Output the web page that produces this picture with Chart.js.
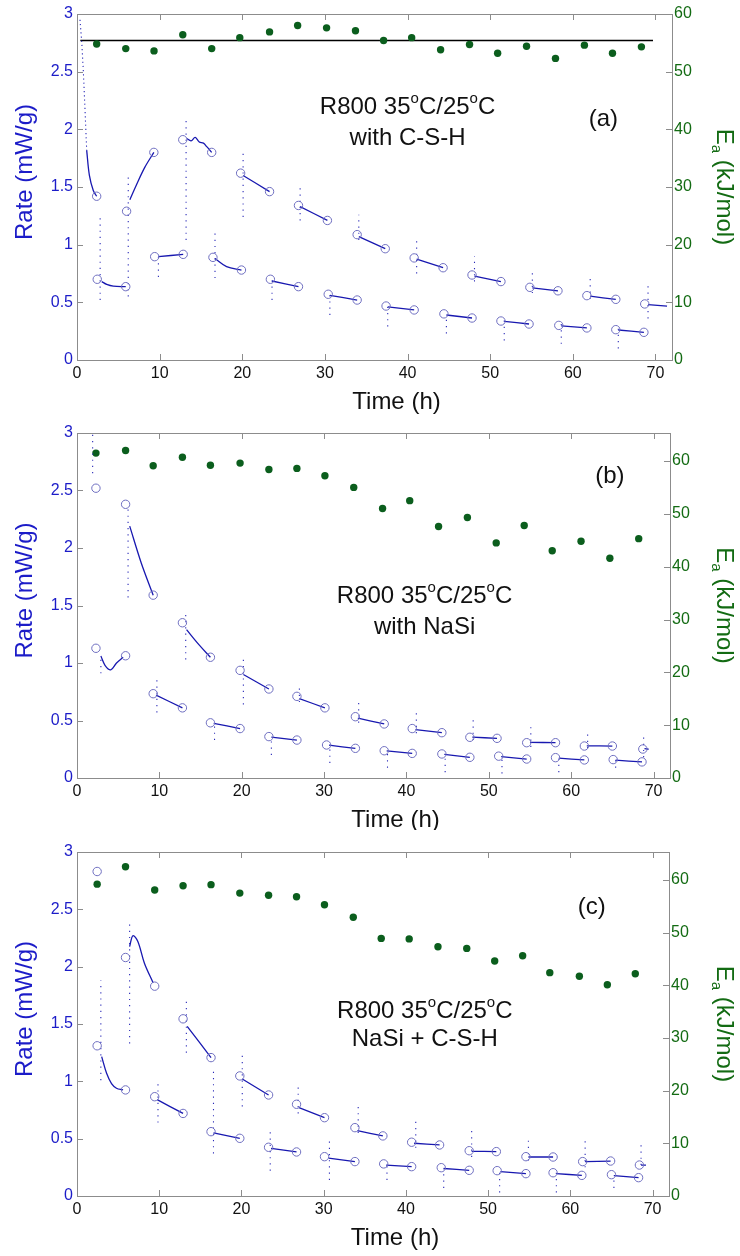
<!DOCTYPE html>
<html><head><meta charset="utf-8">
<script src="https://cdn.jsdelivr.net/npm/chart.js@4.4.1/dist/chart.umd.min.js"></script>
<style>
html,body{margin:0;padding:0;background:#fff;}
body{width:740px;height:1256px;position:relative;overflow:hidden;}
canvas{position:absolute;left:0;}
</style></head><body>
<canvas id="ca" width="740" height="415" style="top:0px"></canvas>
<canvas id="cb" width="740" height="415" style="top:415px"></canvas>
<canvas id="cc" width="740" height="426" style="top:830px"></canvas>
<script>
// ---------- shared tick labels ----------
const timeTicks = [0, 10, 20, 30, 40, 50, 60, 70];
const rateTicks = [0, 0.5, 1, 1.5, 2, 2.5, 3];
const eaTicks = [0, 10, 20, 30, 40, 50, 60];

// ---------- panel (a): with C-S-H ----------
const aEaT = [2.38, 5.9, 9.32, 12.8, 16.3, 19.7, 23.3, 26.7, 30.2, 33.7, 37.1, 40.5, 44.0, 47.5, 50.9, 54.4, 57.9, 61.4, 64.8, 68.3];
const aEa  = [54.8, 54.0, 53.6, 56.4, 54.0, 55.9, 56.9, 58.0, 57.6, 57.1, 55.4, 55.9, 53.8, 54.7, 53.2, 54.4, 52.3, 54.6, 53.2, 54.3];
const aMeanT = [0.4, 69.7];
const aMean  = [55.4, 55.4];
const aCircT = [2.38, 2.45, 5.9, 6.0, 9.3, 9.4, 12.85, 12.8, 16.3, 16.45, 19.9, 19.8, 23.3, 23.4, 26.8, 26.8, 30.3, 30.4, 33.9, 33.9, 37.3, 37.4, 40.8, 40.8, 44.3, 44.4, 47.8, 47.8, 51.3, 51.3, 54.7, 54.8, 58.2, 58.3, 61.7, 61.7, 65.2, 65.2, 68.6, 68.7];
const aCircR = [1.42, 0.70, 0.636, 1.29, 1.80, 0.896, 0.916, 1.91, 1.80, 0.89, 0.78, 1.62, 1.46, 0.70, 0.636, 1.34, 1.21, 0.57, 0.52, 1.087, 0.965, 0.468, 0.434, 0.885, 0.80, 0.40, 0.364, 0.737, 0.68, 0.338, 0.312, 0.63, 0.60, 0.30, 0.278, 0.558, 0.526, 0.263, 0.24, 0.486];
const aLineT = [1.17, 1.5, 1.97, 2.38, null, 3.0, 3.6, 4.4, 5.9, null, 6.4, 7.2, 8.2, 9.3, null, 9.85, 12.85, null, 13.3, 13.8, 14.3, 14.8, 15.3, 15.7, 16.3, null, 16.7, 18.1, 19.9, null, 20.1, 23.3, null, 23.6, 26.8, null, 27.0, 30.3, null, 30.6, 33.9, null, 34.1, 37.3, null, 37.6, 40.8, null, 41.1, 44.3, null, 44.7, 47.8, null, 48.1, 51.3, null, 51.7, 54.7, null, 55.1, 58.2, null, 58.6, 61.7, null, 62.1, 65.2, null, 65.5, 68.6, null, 69.1, 71.4];
const aLineR = [1.82, 1.6, 1.47, 1.42, null, 0.68, 0.655, 0.64, 0.636, null, 1.39, 1.52, 1.67, 1.80, null, 0.896, 0.916, null, 1.92, 1.90, 1.93, 1.89, 1.88, 1.85, 1.80, null, 0.88, 0.81, 0.78, null, 1.60, 1.46, null, 0.685, 0.636, null, 1.33, 1.21, null, 0.56, 0.52, null, 1.07, 0.965, null, 0.46, 0.434, null, 0.875, 0.80, null, 0.39, 0.364, null, 0.727, 0.68, null, 0.335, 0.312, null, 0.625, 0.60, null, 0.295, 0.278, null, 0.553, 0.526, null, 0.26, 0.24, null, 0.48, 0.468];
const aLeadT = [0.36, 0.57, 0.77, 0.97, 1.17];
const aLeadR = [2.95, 2.76, 2.5, 2.17, 1.82];
const aStkT  = [2.8, 6.2, 9.85, 13.2, 16.7, 20.1, 23.6, 27.0, 30.6, 34.1, 37.6, 41.1, 44.7, 48.1, 51.7, 55.1, 58.6, 62.1, 65.5, 69.1];
const aStkLo = [0.52, 0.55, 0.72, 1.04, 0.71, 1.24, 0.52, 1.21, 0.39, 1.04, 0.29, 0.75, 0.23, 0.68, 0.17, 0.58, 0.14, 0.53, 0.10, 0.36];
const aStkHi = [1.26, 1.62, 0.89, 2.10, 1.10, 1.79, 0.69, 1.53, 0.58, 1.26, 0.46, 1.07, 0.39, 0.90, 0.36, 0.77, 0.32, 0.73, 0.28, 0.66];

// ---------- panel (b): with NaSi ----------
const bEaT = [2.3, 5.9, 9.25, 12.8, 16.2, 19.8, 23.3, 26.7, 30.1, 33.6, 37.1, 40.4, 43.9, 47.4, 50.9, 54.3, 57.7, 61.2, 64.7, 68.2];
const bEa  = [61.5, 62.0, 59.1, 60.7, 59.2, 59.6, 58.4, 58.6, 57.2, 55.0, 51.0, 52.5, 47.6, 49.3, 44.5, 47.8, 43.0, 44.8, 41.6, 45.3];
const bCircT = [2.3, 5.9, 9.25, 12.8, 16.2, 19.8, 23.3, 26.7, 30.1, 33.8, 37.3, 40.7, 44.3, 47.7, 51.0, 54.6, 58.1, 61.6, 65.0, 68.7,
                2.3, 5.9, 9.25, 12.8, 16.2, 19.8, 23.3, 26.7, 30.3, 33.8, 37.3, 40.7, 44.3, 47.7, 51.2, 54.6, 58.1, 61.6, 65.1, 68.6];
const bCircR = [2.52, 2.38, 1.59, 1.35, 1.05, 0.936, 0.774, 0.71, 0.61, 0.533, 0.47, 0.43, 0.394, 0.354, 0.345, 0.307, 0.307, 0.278, 0.278, 0.252,
                1.128, 1.063, 0.733, 0.61, 0.48, 0.43, 0.36, 0.33, 0.287, 0.258, 0.237, 0.214, 0.209, 0.18, 0.19, 0.165, 0.177, 0.157, 0.16, 0.14];
const bLineT = [2.9, 3.4, 4.1, 4.8, 5.6, null, 6.4, 7.8, 9.25, null, 9.6, 12.8, null, 13.3, 14.8, 16.2, null, 16.6, 19.8, null, 20.2, 23.3, null, 23.6, 26.7, null, 27.0, 30.1, null, 30.6, 33.8, null, 34.1, 37.3, null, 37.6, 40.7, null, 41.1, 44.3, null, 44.6, 47.7, null, 48.0, 51.0, null, 51.5, 54.6, null, 55.0, 58.1, null, 58.5, 61.6, null, 61.9, 65.0, null, 65.4, 68.6, null, 68.9, 69.4];
const bLineR = [1.06, 0.98, 0.94, 1.0, 1.05, null, 2.19, 1.87, 1.59, null, 0.72, 0.61, null, 1.29, 1.16, 1.05, null, 0.475, 0.43, null, 0.90, 0.774, null, 0.355, 0.33, null, 0.69, 0.61, null, 0.285, 0.258, null, 0.52, 0.47, null, 0.235, 0.214, null, 0.42, 0.394, null, 0.205, 0.18, null, 0.355, 0.345, null, 0.185, 0.165, null, 0.31, 0.307, null, 0.172, 0.157, null, 0.28, 0.278, null, 0.155, 0.14, null, 0.255, 0.25];
const bStkT  = [1.9, 2.9, 6.2, 9.7, 13.2, 16.7, 20.2, 23.6, 27.0, 30.7, 34.2, 37.7, 41.2, 44.7, 48.1, 51.6, 55.1, 58.5, 62.0, 65.4, 68.8];
const bStkLo = [2.65, 0.91, 1.57, 0.57, 1.03, 0.33, 0.64, 0.20, 0.66, 0.13, 0.48, 0.09, 0.39, 0.05, 0.33, 0.04, 0.27, 0.05, 0.26, 0.09, 0.18];
const bStkHi = [3.0, 1.03, 2.36, 0.88, 1.46, 0.48, 1.07, 0.36, 0.78, 0.29, 0.68, 0.24, 0.57, 0.20, 0.52, 0.18, 0.45, 0.18, 0.42, 0.16, 0.39];

// ---------- panel (c): NaSi + C-S-H ----------
const cEaT = [2.45, 5.9, 9.45, 12.9, 16.3, 19.8, 23.3, 26.7, 30.1, 33.6, 37.0, 40.4, 43.9, 47.4, 50.8, 54.2, 57.5, 61.1, 64.5, 67.9];
const cEa  = [59.2, 62.5, 58.1, 58.9, 59.1, 57.5, 57.1, 56.8, 55.3, 52.9, 48.9, 48.8, 47.3, 47.0, 44.6, 45.6, 42.4, 41.7, 40.1, 42.2];
const cCircT = [2.45, 5.9, 9.45, 12.9, 16.3, 19.8, 23.3, 26.7, 30.1, 33.8, 37.2, 40.7, 44.1, 47.7, 51.0, 54.6, 57.9, 61.5, 64.9, 68.4,
                2.45, 5.9, 9.45, 12.9, 16.3, 19.8, 23.3, 26.7, 30.1, 33.8, 37.3, 40.7, 44.3, 47.7, 51.1, 54.6, 57.9, 61.4, 65.0, 68.3];
const cCircR = [2.83, 2.08, 1.83, 1.545, 1.207, 1.047, 0.881, 0.80, 0.683, 0.596, 0.524, 0.469, 0.445, 0.395, 0.387, 0.343, 0.34, 0.30, 0.305, 0.27,
                1.31, 0.925, 0.866, 0.72, 0.561, 0.503, 0.425, 0.384, 0.343, 0.30, 0.28, 0.256, 0.247, 0.224, 0.221, 0.195, 0.203, 0.18, 0.186, 0.16];
const cLineT = [3.0, 3.6, 4.2, 4.8, 5.6, null, 6.4, 6.8, 7.4, 8.2, 9.25, null, 9.75, 12.9, null, 13.4, 16.3, null, 16.6, 19.8, null, 20.1, 23.3, null, 23.6, 26.7, null, 27.0, 30.1, null, 30.6, 33.8, null, 34.1, 37.2, null, 37.6, 40.7, null, 41.0, 44.1, null, 44.6, 47.7, null, 48.0, 51.0, null, 51.5, 54.6, null, 54.9, 57.9, null, 58.3, 61.4, null, 61.8, 64.9, null, 65.3, 68.3, null, 68.6, 69.2];
const cLineR = [1.215, 1.07, 0.98, 0.94, 0.925, null, 2.175, 2.27, 2.22, 2.03, 1.86, null, 0.84, 0.72, null, 1.48, 1.207, null, 0.55, 0.503, null, 1.02, 0.881, null, 0.415, 0.384, null, 0.77, 0.683, null, 0.33, 0.30, null, 0.57, 0.524, null, 0.27, 0.256, null, 0.46, 0.445, null, 0.24, 0.224, null, 0.39, 0.387, null, 0.212, 0.195, null, 0.34, 0.34, null, 0.195, 0.18, null, 0.30, 0.305, null, 0.178, 0.16, null, 0.27, 0.27];
const cStkT  = [2.9, 6.4, 9.85, 13.3, 16.6, 20.1, 23.5, 26.9, 30.7, 34.2, 37.7, 41.2, 44.6, 48.0, 51.4, 54.9, 58.3, 61.8, 65.3, 68.6];
const cStkLo = [1.01, 1.33, 0.64, 1.25, 0.37, 0.78, 0.22, 0.72, 0.14, 0.55, 0.14, 0.42, 0.07, 0.34, 0.03, 0.31, 0.03, 0.25, 0.07, 0.27];
const cStkHi = [1.88, 2.38, 0.98, 1.71, 1.12, 1.25, 0.56, 0.98, 0.49, 0.81, 0.29, 0.65, 0.24, 0.58, 0.23, 0.51, 0.21, 0.49, 0.18, 0.45];

// ---------- helpers ----------
const FONT = '"Liberation Sans", Arial, sans-serif';
const BLUE_TXT = '#1c1cc8', GREEN_TXT = '#136b13', GREEN_DOT = '#0b5e1d';
const CIRCLE = '#6e6ec0', LINE = '#1818b0', DOT = '#2a2ab8', AXIS = '#8c8c8c';

function zip(xs, ys) { return xs.map((x, i) => ({ x: x, y: ys[i] })); }
function streaks(ts, lo, hi) {
  const out = [];
  ts.forEach((t, i) => { out.push({ x: t, y: lo[i] }, { x: t, y: hi[i] }, { x: null, y: null }); });
  return out;
}
function rich(ctx, parts, cx, cy, size, color) {
  const big = size + 'px ' + FONT, small = Math.round(size * 0.62) + 'px ' + FONT;
  let w = 0;
  parts.forEach(p => { ctx.font = p.s ? small : big; w += ctx.measureText(p.t).width; });
  let x = cx - w / 2;
  ctx.textBaseline = 'middle'; ctx.textAlign = 'left'; ctx.fillStyle = color;
  parts.forEach(p => {
    ctx.font = p.s ? small : big;
    const dy = p.s === 'sup' ? -size * 0.36 : (p.s === 'sub' ? size * 0.32 : 0);
    ctx.fillText(p.t, x, cy + dy);
    x += ctx.measureText(p.t).width;
  });
}

function decor(P) {
  return {
    id: 'decor',
    afterDraw(chart) {
      const ctx = chart.ctx, a = chart.chartArea;
      const sx = chart.scales.x, sy = chart.scales.y, s2 = chart.scales.y2;
      ctx.save();
      ctx.strokeStyle = AXIS; ctx.lineWidth = 1;
      ctx.strokeRect(Math.round(a.left) + 0.5, Math.round(a.top) + 0.5, Math.round(a.right - a.left), Math.round(a.bottom - a.top));
      const TL = 6;
      ctx.beginPath();
      timeTicks.forEach(v => {
        const px = Math.round(sx.getPixelForValue(v)) + 0.5;
        ctx.moveTo(px, a.bottom); ctx.lineTo(px, a.bottom - TL);
        ctx.moveTo(px, a.top); ctx.lineTo(px, a.top + TL);
      });
      rateTicks.forEach(v => {
        const py = Math.round(sy.getPixelForValue(v)) + 0.5;
        ctx.moveTo(a.left, py); ctx.lineTo(a.left + TL, py);
      });
      eaTicks.forEach(v => {
        const py = Math.round(s2.getPixelForValue(v)) + 0.5;
        ctx.moveTo(a.right, py); ctx.lineTo(a.right - TL, py);
      });
      ctx.stroke();

      // axis titles
      const midY = (a.top + a.bottom) / 2;
      ctx.save();
      ctx.translate(25, midY - 15); ctx.rotate(-Math.PI / 2);
      rich(ctx, [{ t: 'Rate (mW/g)' }], 0, 0, 24, BLUE_TXT);
      ctx.restore();
      ctx.save();
      ctx.translate(724, midY); ctx.rotate(Math.PI / 2);
      rich(ctx, [{ t: 'E' }, { t: 'a', s: 'sub' }, { t: ' (kJ/mol)' }], 0, 0, 24, GREEN_TXT);
      ctx.restore();
      rich(ctx, [{ t: 'Time (h)' }], (a.left + a.right) / 2 + 22, a.bottom + 42, 24, '#111');

      // annotations
      const cx = sx.getPixelForValue(P.textT);
      rich(ctx, [{ t: 'R800 35' }, { t: 'o', s: 'sup' }, { t: 'C/25' }, { t: 'o', s: 'sup' }, { t: 'C' }], cx, sy.getPixelForValue(P.line1R), 24, '#111');
      rich(ctx, [{ t: P.line2 }], cx, sy.getPixelForValue(P.line2R), 24, '#111');
      rich(ctx, [{ t: P.tag }], sx.getPixelForValue(P.tagT), sy.getPixelForValue(P.tagR), 24, '#111');
      ctx.restore();
    }
  };
}

function makePanel(id, P) {
  const canvas = document.getElementById(id);
  const H = canvas.height;
  const tickFont = { family: FONT, size: 16 };
  const datasets = [
    { label: 'circles', data: zip(P.circT, P.circR), yAxisID: 'y', showLine: false,
      pointRadius: 4.2, pointBackgroundColor: 'rgba(0,0,0,0)', pointBorderColor: CIRCLE, pointBorderWidth: 1 },
    { label: 'rate', data: zip(P.lineT, P.lineR), yAxisID: 'y', showLine: true, spanGaps: false,
      pointRadius: 0, borderColor: LINE, borderWidth: 1.3, tension: 0.35 },
    { label: 'transient', data: streaks(P.stkT, P.stkLo, P.stkHi), yAxisID: 'y', showLine: true, spanGaps: false,
      pointRadius: 0, borderColor: DOT, borderWidth: 1.1, borderDash: [1.2, 5] },
    { label: 'Ea', data: zip(P.eaT, P.ea), yAxisID: 'y2', showLine: false,
      pointRadius: 3.7, pointBackgroundColor: GREEN_DOT, pointBorderColor: GREEN_DOT, pointBorderWidth: 0 }
  ];
  if (P.leadT) datasets.push({ label: 'lead', data: zip(P.leadT, P.leadR), yAxisID: 'y', showLine: true,
      pointRadius: 0, borderColor: DOT, borderWidth: 1.1, borderDash: [1.2, 3] });
  if (P.meanT) datasets.push({ label: 'mean', data: zip(P.meanT, P.mean), yAxisID: 'y2', showLine: true,
      pointRadius: 0, borderColor: '#000', borderWidth: 1.6 });

  return new Chart(canvas, {
    type: 'scatter',
    data: { datasets: datasets },
    options: {
      responsive: false, animation: false, events: [],
      layout: { padding: { top: P.top, left: 0, right: 0, bottom: 0 } },
      plugins: { legend: { display: false }, tooltip: { enabled: false } },
      scales: {
        x: { type: 'linear', position: 'bottom', min: 0, max: 72,
          afterBuildTicks: s => { s.ticks = timeTicks.map(v => ({ value: v })); },
          afterFit: s => { s.height = H - P.bottom; },
          ticks: { font: tickFont, color: '#111', padding: 4, maxRotation: 0, autoSkip: false, callback: v => String(v) },
          grid: { display: false, drawTicks: false }, border: { display: false } },
        y: { type: 'linear', position: 'left', min: 0, max: 3,
          afterBuildTicks: s => { s.ticks = rateTicks.map(v => ({ value: v })); },
          afterFit: s => { s.width = 77; },
          ticks: { font: tickFont, color: BLUE_TXT, padding: 4, autoSkip: false, callback: v => String(v) },
          grid: { display: false, drawTicks: false }, border: { display: false } },
        y2: { type: 'linear', position: 'right', min: 0, max: P.eaMax,
          afterBuildTicks: s => { s.ticks = eaTicks.map(v => ({ value: v })); },
          afterFit: s => { s.width = 740 - P.right; },
          ticks: { font: tickFont, color: GREEN_TXT, padding: 2, autoSkip: false, callback: v => String(v) },
          grid: { display: false, drawTicks: false }, border: { display: false } }
      }
    },
    plugins: [decor(P)]
  });
}

makePanel('ca', { top: 14, bottom: 360, right: 672, eaMax: 60,
  eaT: aEaT, ea: aEa, meanT: aMeanT, mean: aMean, circT: aCircT, circR: aCircR,
  lineT: aLineT, lineR: aLineR, leadT: aLeadT, leadR: aLeadR, stkT: aStkT, stkLo: aStkLo, stkHi: aStkHi,
  textT: 40.0, line1R: 2.19, line2: 'with C-S-H', line2R: 1.92, tag: '(a)', tagT: 63.7, tagR: 2.09 });

makePanel('cb', { top: 18, bottom: 363, right: 670, eaMax: 65.3,
  eaT: bEaT, ea: bEa, circT: bCircT, circR: bCircR,
  lineT: bLineT, lineR: bLineR, stkT: bStkT, stkLo: bStkLo, stkHi: bStkHi,
  textT: 42.2, line1R: 1.58, line2: 'with NaSi', line2R: 1.31, tag: '(b)', tagT: 64.7, tagR: 2.62 });

makePanel('cc', { top: 22, bottom: 366, right: 669, eaMax: 65.3,
  eaT: cEaT, ea: cEa, circT: cCircT, circR: cCircR,
  lineT: cLineT, lineR: cLineR, stkT: cStkT, stkLo: cStkLo, stkHi: cStkHi,
  textT: 42.3, line1R: 1.61, line2: 'NaSi + C-S-H', line2R: 1.37, tag: '(c)', tagT: 62.6, tagR: 2.52 });
</script>
</body></html>
